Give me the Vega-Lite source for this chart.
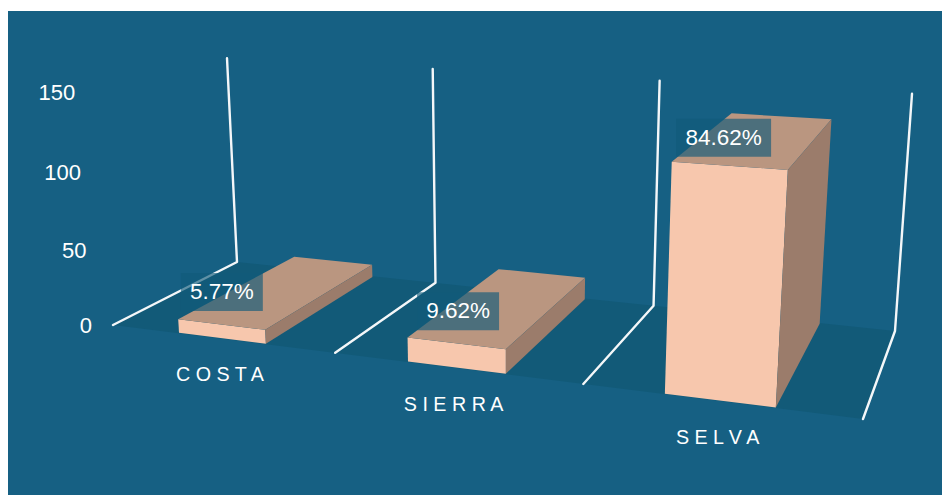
{
  "$schema": "https://vega.github.io/schema/vega-lite/v6.json",
  "width": 934,
  "height": 484,
  "padding": {"left": 8, "top": 11, "right": 0, "bottom": 0},
  "autosize": {"type": "none"},
  "background": "#ffffff",
  "view": {"fill": "#166083", "stroke": null},
  "datasets": {
    "regions": [
      {"category": "COSTA", "spaced": "C O S T A", "slot": 0, "value": 9, "share": "5.77%"},
      {"category": "SIERRA", "spaced": "S I E R R A", "slot": 1, "value": 15, "share": "9.62%"},
      {"category": "SELVA", "spaced": "S E L V A", "slot": 2, "value": 132, "share": "84.62%"}
    ],
    "floor": [
      {"corner": 0, "s": 0, "t": 0},
      {"corner": 1, "s": 1, "t": 0},
      {"corner": 2, "s": 1, "t": 1},
      {"corner": 3, "s": 0, "t": 1}
    ],
    "rails": [{"rail": 0}, {"rail": 1}, {"rail": 2}, {"rail": 3}],
    "ticks": [{"tick": 0}, {"tick": 50}, {"tick": 100}, {"tick": 150}]
  },
  "encoding": {
    "x": {"field": "px", "type": "quantitative", "axis": null, "scale": {"domain": [8, 942], "nice": false, "zero": false}},
    "y": {"field": "py", "type": "quantitative", "axis": null, "scale": {"domain": [495, 11], "nice": false, "zero": false}}
  },
  "layer": [
    {
      "data": {"name": "floor"},
      "transform": [
        {"calculate": "0", "as": "v"},
        {"calculate": "1-0.16805*datum.s+0.14799*datum.t-0.04107*datum.v/150", "as": "w"},
        {"calculate": "(604.97*datum.s+159.07*datum.t+113-20.79*datum.v/150)/datum.w", "as": "px"},
        {"calculate": "(23.59*datum.s-24.23*datum.t+325-236.3*datum.v/150)/datum.w", "as": "py"}
      ],
      "mark": {"type": "line", "fill": "#125a78", "stroke": null},
      "encoding": {"order": {"field": "corner", "type": "quantitative"}}
    },
    {
      "data": {"name": "rails"},
      "transform": [
        {"calculate": "[{i:0,t:1,lift:150},{i:1,t:1,lift:0},{i:2,t:0,lift:0}]", "as": "p"},
        {"flatten": ["p"]},
        {"calculate": "[0,0.336,0.669,1][datum.rail]", "as": "s"},
        {"calculate": "datum.p.t", "as": "t"},
        {"calculate": "datum.p.lift", "as": "v"},
        {"calculate": "datum.p.i", "as": "i"},
        {"calculate": "1-0.16805*datum.s+0.14799*datum.t-0.04107*datum.v/150", "as": "w"},
        {"calculate": "(604.97*datum.s+159.07*datum.t+113-20.79*datum.v/150)/datum.w", "as": "px"},
        {"calculate": "(23.59*datum.s-24.23*datum.t+325-236.3*datum.v/150)/datum.w", "as": "py"}
      ],
      "mark": {"type": "line", "stroke": "#f4f7f9", "strokeWidth": 2.4, "strokeJoin": "round", "strokeCap": "round"},
      "encoding": {
        "detail": {"field": "rail", "type": "nominal"},
        "order": {"field": "i", "type": "quantitative"}
      }
    },
    {
      "data": {"name": "regions"},
      "transform": [
        {"calculate": "[{face:'front',i:0,a:0,b:0,c:0},{face:'front',i:1,a:1,b:0,c:0},{face:'front',i:2,a:1,b:0,c:1},{face:'front',i:3,a:0,b:0,c:1},{face:'top',i:0,a:0,b:0,c:1},{face:'top',i:1,a:1,b:0,c:1},{face:'top',i:2,a:1,b:1,c:1},{face:'top',i:3,a:0,b:1,c:1},{face:'side',i:0,a:1,b:0,c:0},{face:'side',i:1,a:1,b:1,c:0},{face:'side',i:2,a:1,b:1,c:1},{face:'side',i:3,a:1,b:0,c:1}]", "as": "p"},
        {"flatten": ["p"]},
        {"calculate": "datum.p.face", "as": "face"},
        {"calculate": "datum.p.i", "as": "i"},
        {"calculate": "(datum.slot+0.5)/3+[0.002,0.003,0.002][datum.slot]+(datum.p.a-0.5)*0.1315", "as": "s"},
        {"calculate": "0.005+0.985*datum.p.b", "as": "t"},
        {"calculate": "datum.p.c*datum.value", "as": "v"},
        {"calculate": "1-0.16805*datum.s+0.14799*datum.t-0.04107*datum.v/150", "as": "w"},
        {"calculate": "(604.97*datum.s+159.07*datum.t+113-20.79*datum.v/150)/datum.w", "as": "px"},
        {"calculate": "(23.59*datum.s-24.23*datum.t+325-236.3*datum.v/150)/datum.w", "as": "py"}
      ],
      "mark": {"type": "line", "stroke": null},
      "encoding": {
        "fill": {"field": "face", "type": "nominal", "legend": null, "scale": {"domain": ["front", "top", "side"], "range": ["#f7c7ad", "#ba9680", "#9b7c6b"]}},
        "detail": {"field": "category", "type": "nominal"},
        "order": {"field": "i", "type": "quantitative"}
      }
    },
    {
      "data": {"name": "regions"},
      "transform": [
        {"calculate": "(datum.slot+0.5)/3+0.002", "as": "s"},
        {"calculate": "0.005", "as": "t"},
        {"calculate": "datum.value", "as": "v"},
        {"calculate": "1-0.16805*datum.s+0.14799*datum.t-0.04107*datum.v/150", "as": "w"},
        {"calculate": "(604.97*datum.s+159.07*datum.t+113-20.79*datum.v/150)/datum.w+[0.6,2.7,-5.4][datum.slot]", "as": "cx"},
        {"calculate": "(23.59*datum.s-24.23*datum.t+325-236.3*datum.v/150)/datum.w+[-32.5,-32,-28][datum.slot]", "as": "cy"},
        {"calculate": "6.5*length(datum.share)+8.5", "as": "half"},
        {"calculate": "datum.cx-datum.half", "as": "px"},
        {"calculate": "datum.cx+datum.half", "as": "px2"},
        {"calculate": "datum.cy-19", "as": "py"},
        {"calculate": "datum.cy+19", "as": "py2"}
      ],
      "mark": {"type": "rect", "fill": "#115a7a", "opacity": 0.65},
      "encoding": {
        "x2": {"field": "px2"},
        "y2": {"field": "py2"}
      }
    },
    {
      "data": {"name": "regions"},
      "transform": [
        {"calculate": "(datum.slot+0.5)/3+0.002", "as": "s"},
        {"calculate": "0.005", "as": "t"},
        {"calculate": "datum.value", "as": "v"},
        {"calculate": "1-0.16805*datum.s+0.14799*datum.t-0.04107*datum.v/150", "as": "w"},
        {"calculate": "(604.97*datum.s+159.07*datum.t+113-20.79*datum.v/150)/datum.w+[0.6,2.7,-5.4][datum.slot]", "as": "px"},
        {"calculate": "(23.59*datum.s-24.23*datum.t+325-236.3*datum.v/150)/datum.w+[-32.5,-32,-28][datum.slot]", "as": "py"}
      ],
      "mark": {"type": "text", "font": "Liberation Sans", "fontSize": 22.5, "fill": "#ffffff", "align": "center", "baseline": "middle"},
      "encoding": {"text": {"field": "share", "type": "nominal"}}
    },
    {
      "data": {"name": "ticks"},
      "transform": [
        {"calculate": "0", "as": "s"},
        {"calculate": "0", "as": "t"},
        {"calculate": "datum.tick", "as": "v"},
        {"calculate": "1-0.16805*datum.s+0.14799*datum.t-0.04107*datum.v/150", "as": "w"},
        {"calculate": "(604.97*datum.s+159.07*datum.t+113-20.79*datum.v/150)/datum.w", "as": "px"},
        {"calculate": "(23.59*datum.s-24.23*datum.t+325-236.3*datum.v/150)/datum.w", "as": "py"}
      ],
      "mark": {"type": "text", "font": "Liberation Sans", "fontSize": 22, "fill": "#ffffff", "align": "right", "baseline": "middle", "dx": -21, "dy": 1},
      "encoding": {"text": {"field": "tick", "type": "quantitative"}}
    },
    {
      "data": {"name": "regions"},
      "transform": [
        {"calculate": "(datum.slot+0.5)/3", "as": "s"},
        {"calculate": "0", "as": "t"},
        {"calculate": "0", "as": "v"},
        {"calculate": "1-0.16805*datum.s+0.14799*datum.t-0.04107*datum.v/150", "as": "w"},
        {"calculate": "(604.97*datum.s+159.07*datum.t+113-20.79*datum.v/150)/datum.w", "as": "px"},
        {"calculate": "(23.59*datum.s-24.23*datum.t+325-236.3*datum.v/150)/datum.w", "as": "py"}
      ],
      "mark": {"type": "text", "font": "Liberation Sans", "fontSize": 19.7, "fill": "#ffffff", "align": "center", "baseline": "middle", "dy": 37},
      "encoding": {"text": {"field": "spaced", "type": "nominal"}}
    }
  ]
}
